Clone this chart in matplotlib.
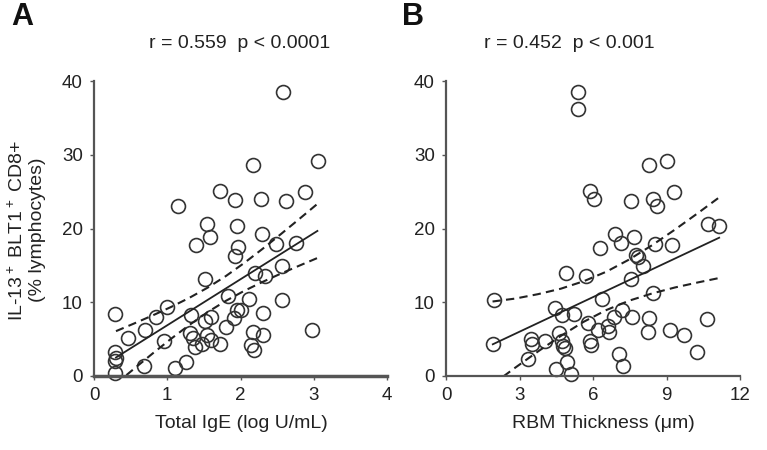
import matplotlib
matplotlib.use("Agg")
import matplotlib.pyplot as plt

FAM = ['Liberation Sans Narrow', 'Liberation Sans', 'DejaVu Sans']
plt.rcParams['font.family'] = FAM
plt.rcParams['mathtext.fontset'] = 'custom'
plt.rcParams['mathtext.rm'] = 'Liberation Sans'
plt.rcParams['mathtext.default'] = 'regular'

# ---------------- Panel A data: Total IgE vs IL-13+ BLT1+ CD8+ ----------------
ige_x = [2.58, 2.165, 3.06, 1.72, 1.92, 2.28, 2.62, 2.88, 1.14, 1.54, 1.95, 1.59,
         1.39, 1.97, 1.92, 2.30, 2.49, 2.76, 2.57, 2.20, 2.33, 1.51, 1.83, 2.11,
         2.57, 0.29, 0.99, 0.85, 1.33, 1.60, 1.51, 1.95, 2.01, 2.31, 1.91, 0.70,
         0.47, 0.96, 1.31, 1.80, 2.17, 2.31, 1.54, 1.38, 1.47, 1.60, 1.72, 1.35,
         2.15, 2.19, 2.98, 0.29, 0.30, 0.29, 0.29, 0.68, 1.11, 1.26]
ige_y = [38.5, 28.6, 29.1, 25.1, 23.9, 24.0, 23.7, 25.0, 23.0, 20.6, 20.4, 18.8,
         17.8, 17.5, 16.3, 19.3, 17.9, 18.1, 14.9, 14.0, 13.6, 13.2, 10.8, 10.5,
         10.3, 8.4, 9.3, 8.0, 8.3, 8.0, 7.4, 8.9, 8.9, 8.5, 7.8, 6.2,
         5.1, 4.8, 5.8, 6.7, 6.0, 5.6, 5.6, 4.0, 4.4, 4.9, 4.4, 5.1,
         4.2, 3.5, 6.3, 3.3, 2.5, 2.0, 0.4, 1.4, 1.1, 1.9]

fit_a_x = [0.30, 3.05]
fit_a_y = [2.51, 19.67]
ci_a_x = [0.30, 0.55, 0.80, 1.05, 1.30, 1.55, 1.80, 2.05, 2.30, 2.55, 2.80, 3.05]
ci_a_up = [6.08, 7.13, 8.21, 9.35, 10.59, 11.97, 13.55, 15.32, 17.23, 19.23, 21.27, 23.34]
ci_a_lo = [-1.06, 1.01, 3.05, 5.03, 6.91, 8.65, 10.19, 11.54, 12.75, 13.88, 14.95, 16.00]

# ---------------- Panel B data: RBM thickness vs IL-13+ BLT1+ CD8+ ----------------
rbm_x = [5.39, 5.39, 8.29, 9.00, 5.89, 6.04, 7.54, 8.43, 8.62, 9.30, 10.70, 11.15,
         6.89, 7.68, 6.27, 7.16, 8.52, 9.21, 7.76, 7.84, 8.04, 4.88, 5.70, 7.57,
         8.43, 1.95, 6.38, 4.43, 4.75, 5.21, 5.79, 6.20, 6.61, 6.65, 6.84, 7.20,
         7.59, 8.28, 8.25, 9.14, 9.72, 10.23, 10.64, 1.91, 3.48, 3.50, 4.06, 4.61,
         4.72, 4.77, 4.84, 5.89, 5.93, 3.34, 4.50, 4.93, 5.09, 7.05, 7.23]
rbm_y = [38.5, 36.2, 28.6, 29.1, 25.1, 24.0, 23.7, 24.0, 23.0, 24.9, 20.6, 20.4,
         19.3, 18.9, 17.4, 18.1, 17.9, 17.8, 16.4, 16.2, 14.9, 14.0, 13.6, 13.1,
         11.3, 10.3, 10.4, 9.2, 8.3, 8.4, 7.2, 6.3, 6.8, 6.0, 8.0, 8.9,
         8.0, 7.8, 5.9, 6.3, 5.5, 3.3, 7.7, 4.3, 5.0, 4.4, 4.7, 5.8,
         4.8, 4.1, 3.8, 4.8, 4.2, 2.3, 1.0, 1.9, 0.3, 3.0, 1.3]

fit_b_x = [1.91, 11.15]
fit_b_y = [4.30, 18.75]
ci_b_x = [1.90, 2.83, 3.76, 4.69, 5.62, 6.55, 7.48, 8.41, 9.34, 10.27, 11.20]
ci_b_up = [10.10, 10.50, 11.10, 11.84, 12.85, 14.15, 15.80, 17.73, 19.84, 22.06, 24.34]
ci_b_lo = [-1.14, 1.14, 3.34, 5.44, 7.35, 8.95, 10.22, 11.19, 12.00, 12.68, 13.32]

y_ticks = [0, 10, 20, 30, 40]
xa_ticks = [0, 1, 2, 3, 4]
xb_ticks = [0, 3, 6, 9, 12]

fig = plt.figure(figsize=(7.67, 4.5), dpi=100)
axA = fig.add_axes([94 / 767, 74 / 450, 293 / 767, 295 / 450])
axB = fig.add_axes([446 / 767, 74 / 450, 294 / 767, 295 / 450])

ink = '#333333'
FS = 13.5
for ax, xs, ys, fx, fy, cx, cu, cl, xt, xmax in [
        (axA, ige_x, ige_y, fit_a_x, fit_a_y, ci_a_x, ci_a_up, ci_a_lo, xa_ticks, 4),
        (axB, rbm_x, rbm_y, fit_b_x, fit_b_y, ci_b_x, ci_b_up, ci_b_lo, xb_ticks, 12)]:
    ax.plot(xs, ys, linestyle='none', marker='o', markersize=10,
            markerfacecolor='none', markeredgecolor=ink, markeredgewidth=1.2,
            clip_on=False)
    ax.plot(fx, fy, color='#222222', lw=1.3)
    ax.plot(cx, cu, color='#222222', lw=1.5, ls=(0, (4, 2.5)))
    ax.plot(cx, cl, color='#222222', lw=1.5, ls=(0, (4, 2.5)))
    ax.set_xlim(0, xmax)
    ax.set_ylim(0, 40)
    ax.set_xticks(xt)
    ax.set_yticks(y_ticks)
    for s in ['top', 'right']:
        ax.spines[s].set_visible(False)
    for s in ['left', 'bottom']:
        ax.spines[s].set_color('#555555')
        ax.spines[s].set_linewidth(1.6)
    ax.tick_params(direction='out', length=3, width=1, color='#555555',
                   labelsize=FS, labelcolor='#222222', pad=5)

axA.spines['bottom'].set_linewidth(2.5)

fig.text(241 / 767, 1 - 423 / 450, 'Total IgE (log U/mL)', fontsize=FS + 0.5,
         color='#222222', ha='center', va='center')
fig.text(603 / 767, 1 - 423 / 450, 'RBM Thickness (\u03bcm)', fontsize=FS + 0.5,
         color='#222222', ha='center', va='center')

fig.text(17 / 767, 1 - 230 / 450, 'IL-13$^+$ BLT1$^+$ CD8+', rotation=90,
         fontsize=FS + 0.5, color='#222222', ha='center', va='center')
fig.text(37 / 767, 1 - 230 / 450, '(% lymphocytes)', rotation=90,
         fontsize=FS + 0.5, color='#222222', ha='center', va='center')

fig.text(240 / 767, 1 - 43 / 450, 'r = 0.559  p < 0.0001', fontsize=FS + 0.5,
         color='#222222', ha='center', va='center')
fig.text(569 / 767, 1 - 43 / 450, 'r = 0.452  p < 0.001', fontsize=FS + 0.5,
         color='#222222', ha='center', va='center')

fig.text(22 / 767, 1 - 17 / 450, 'A', fontsize=22, fontweight='bold',
         color='#111111', ha='center', va='center')
fig.text(413 / 767, 1 - 17 / 450, 'B', fontsize=22, fontweight='bold',
         color='#111111', ha='center', va='center')

fig.savefig('out.png', dpi=100)
